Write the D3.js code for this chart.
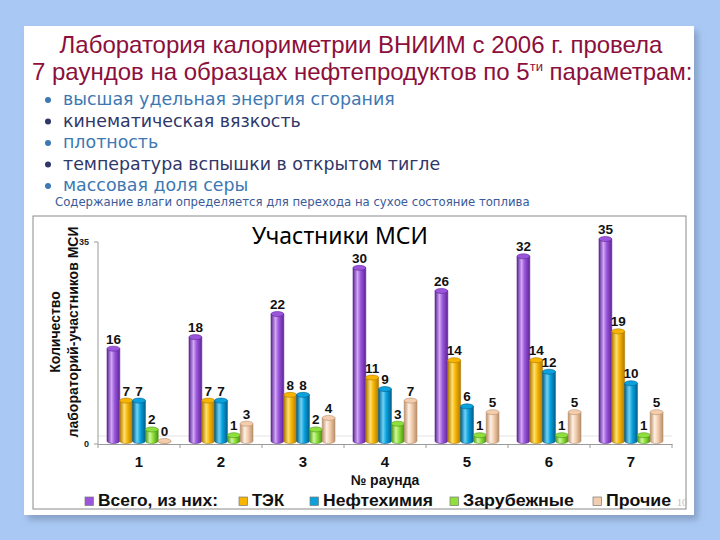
<!DOCTYPE html>
<html><head><meta charset="utf-8">
<script src="https://cdn.jsdelivr.net/npm/d3@7"></script>
<style>html,body{margin:0;padding:0;background:#a9c8f4;}svg{display:block;}</style>
</head><body>
<svg id="c" width="720" height="540"></svg>
<script>
const rounds = ["1","2","3","4","5","6","7"];
const seriesNames = ["Всего, из них:", "ТЭК", "Нефтехимия", "Зарубежные", "Прочие"];
const total   = [16,18,22,30,26,32,35];
const tek     = [7,7,8,11,14,14,19];
const petro   = [7,7,8,9,6,12,10];
const foreign = [2,1,2,3,1,1,1];
const other   = [0,3,4,7,5,5,5];
const yTicks = [0,35];
const titleLines = ["Лаборатория калориметрии ВНИИМ с 2006 г. провела", "7 раундов на образцах нефтепродуктов по 5"];
const bullets = ["высшая удельная энергия сгорания","кинематическая вязкость","плотность","температура вспышки в открытом тигле","массовая доля серы"];
const note = "Содержание влаги определяется для перехода на сухое состояние топлива";

const seriesData = [total, tek, petro, foreign, other];
const colors = [
  {base:"#9b55dc", dark:"#5e2596", light:"#d0a8f2"},
  {base:"#f7b400", dark:"#b07a00", light:"#ffe070"},
  {base:"#0aa2de", dark:"#00608f", light:"#6fd2f6"},
  {base:"#8fe03c", dark:"#4a9410", light:"#d0f8a0"},
  {base:"#f3cdae", dark:"#b8906c", light:"#fff0e2"}
];

const svg = d3.select("#c");
const defs = svg.append("defs");
const sh = defs.append("filter").attr("id","sh").attr("x","-5%").attr("y","-5%").attr("width","115%").attr("height","115%");
sh.append("feDropShadow").attr("dx",4).attr("dy",5).attr("stdDeviation",3).attr("flood-color","#6f86a8").attr("flood-opacity",0.6);
colors.forEach((c,i)=>{
  const g = defs.append("linearGradient").attr("id","g"+i).attr("x1","0").attr("x2","1").attr("y1","0").attr("y2","0");
  g.append("stop").attr("offset","0%").attr("stop-color",c.dark);
  g.append("stop").attr("offset","35%").attr("stop-color",c.light);
  g.append("stop").attr("offset","60%").attr("stop-color",c.base);
  g.append("stop").attr("offset","100%").attr("stop-color",c.dark);
});

// slide panel
svg.append("rect").attr("x",24).attr("y",26).attr("width",670).attr("height",489).attr("fill","#fff").attr("filter","url(#sh)");

// title
const tc = "#8c0f3c";
svg.append("text").attr("x",361).attr("y",53).attr("text-anchor","middle")
  .attr("font-family","Liberation Sans, Arial, sans-serif").attr("font-size",24).attr("fill",tc).text(titleLines[0]);
const t2 = svg.append("text").attr("x",32).attr("y",80)
  .attr("font-family","Liberation Sans, Arial, sans-serif").attr("font-size",24).attr("fill",tc);
t2.append("tspan").text(titleLines[1]);
t2.append("tspan").attr("font-size",13).attr("dy",-9).text("ти");
t2.append("tspan").attr("dy",9).text(" параметрам:");

// bullets
const bColors = ["#3d78b2","#2f3769","#3d78b2","#2f3769","#3d78b2"];
bullets.forEach((b,i)=>{
  const y = 105 + i*21.5;
  svg.append("circle").attr("cx",48).attr("cy",y-5).attr("r",3).attr("fill",bColors[i]);
  svg.append("text").attr("x",63).attr("y",y).attr("font-family","DejaVu Sans, sans-serif")
    .attr("font-size",17.4).attr("fill",bColors[i]).text(b);
});
svg.append("text").attr("x",55).attr("y",206).attr("font-family","DejaVu Sans, sans-serif")
  .attr("font-size",11.7).attr("fill","#3a5a98").text(note);

// chart box
svg.append("rect").attr("x",33).attr("y",216).attr("width",653).attr("height",293)
  .attr("fill","#fff").attr("stroke","#8a8a8a").attr("stroke-width",1);

svg.append("text").attr("x",340).attr("y",244).attr("text-anchor","middle")
  .attr("font-family","Noto Sans, sans-serif").attr("font-size",23).attr("fill","#000").text("Участники МСИ");

const x0 = d3.scaleBand().domain(rounds).range([98,672]).padding(0);
const x1 = d3.scaleBand().domain(seriesNames.map((d,i)=>i)).range([0,64]);
const y = d3.scaleLinear().domain([0,35]).range([444,242]);
const depth = 3;

// floor back line
svg.append("line").attr("x1",98).attr("x2",672).attr("y1",y(0)-8).attr("y2",y(0)-8).attr("stroke","#e4e4e4");

// y axis
svg.append("line").attr("x1",98).attr("x2",98).attr("y1",y(35)).attr("y2",y(0)).attr("stroke","#9a9a9a");
yTicks.forEach(t=>{
  svg.append("line").attr("x1",94).attr("x2",98).attr("y1",y(t)).attr("y2",y(t)).attr("stroke","#9a9a9a");
  svg.append("text").attr("x",89).attr("y",y(t)+3).attr("text-anchor","end")
    .attr("font-family","Liberation Sans, Arial, sans-serif").attr("font-weight","bold").attr("font-size",9).attr("fill","#222").text(t);
});
// x axis
const xAxis = d3.axisBottom(x0).tickSize(0).tickPadding(12);
const xg = svg.append("g").attr("transform",`translate(0,${y(0)})`).call(xAxis);
xg.select(".domain").attr("stroke","#9a9a9a");
xg.selectAll("text").attr("font-family","Liberation Sans, Arial, sans-serif").attr("font-weight","bold").attr("font-size",15).attr("fill","#111");
const bounds = rounds.map(r=>x0(r)).concat([672]);
bounds.forEach(b=>svg.append("line").attr("x1",b).attr("x2",b).attr("y1",y(0)).attr("y2",y(0)+4).attr("stroke","#9a9a9a"));

svg.append("text").attr("x",385).attr("y",485).attr("text-anchor","middle")
  .attr("font-family","Liberation Sans, Arial, sans-serif").attr("font-weight","bold").attr("font-size",14).attr("fill","#111").text("№ раунда");

// y title
const yt = svg.append("g").attr("transform","translate(0,332) rotate(-90)");
yt.append("text").attr("x",0).attr("y",60).attr("text-anchor","middle")
  .attr("font-family","Liberation Sans Narrow, Liberation Sans, sans-serif").attr("font-weight","bold").attr("font-size",14).attr("fill","#111").text("Количество");
yt.append("text").attr("x",0).attr("y",78).attr("text-anchor","middle")
  .attr("font-family","Liberation Sans Narrow, Liberation Sans, sans-serif").attr("font-weight","bold").attr("font-size",14).attr("fill","#111").text("лабораторий-участников МСИ");

// bars
const bw = x1.bandwidth();
const ry = 2.5;
const bars = svg.append("g").attr("transform",`translate(9,${-depth})`);
seriesData.forEach((vals,si)=>{
  vals.forEach((v,ri)=>{
    const bx = x0(rounds[ri]) + x1(si);
    const top = y(v), bot = y(0);
    const g = bars.append("g");
    g.append("path").attr("d",`M${bx},${top} L${bx},${bot} A${bw/2},${ry} 0 0 0 ${bx+bw},${bot} L${bx+bw},${top} Z`)
      .attr("fill",`url(#g${si})`).attr("stroke",colors[si].dark).attr("stroke-width",0.6);
    g.append("ellipse").attr("cx",bx+bw/2).attr("cy",top).attr("rx",bw/2).attr("ry",ry)
      .attr("fill",colors[si].base).attr("stroke",colors[si].dark).attr("stroke-width",0.6);
    g.append("text").attr("x",bx+bw/2).attr("y",top-5).attr("text-anchor","middle")
      .attr("font-family","Liberation Sans, Arial, sans-serif").attr("font-weight","bold").attr("font-size",13.5).attr("fill","#111").text(v);
  });
});

// legend
const legX = [85,239,310,450,593];
const legW = [120,32,110,111,65];
seriesNames.forEach((n,i)=>{
  svg.append("rect").attr("x",legX[i]).attr("y",497).attr("width",8.5).attr("height",8.5)
    .attr("fill",colors[i].base).attr("stroke","#777").attr("stroke-width",0.7);
  svg.append("text").attr("x",legX[i]+13).attr("y",506)
    .attr("font-family","Liberation Sans, Arial, sans-serif").attr("font-weight","bold").attr("font-size",16.5)
    .attr("textLength",legW[i]).attr("lengthAdjust","spacingAndGlyphs").attr("fill","#111").text(n);
});
svg.append("text").attr("x",677).attr("y",506).attr("font-family","Liberation Serif, serif").attr("font-size",10).attr("fill","#bbb").text("10");
</script>
</body></html>
